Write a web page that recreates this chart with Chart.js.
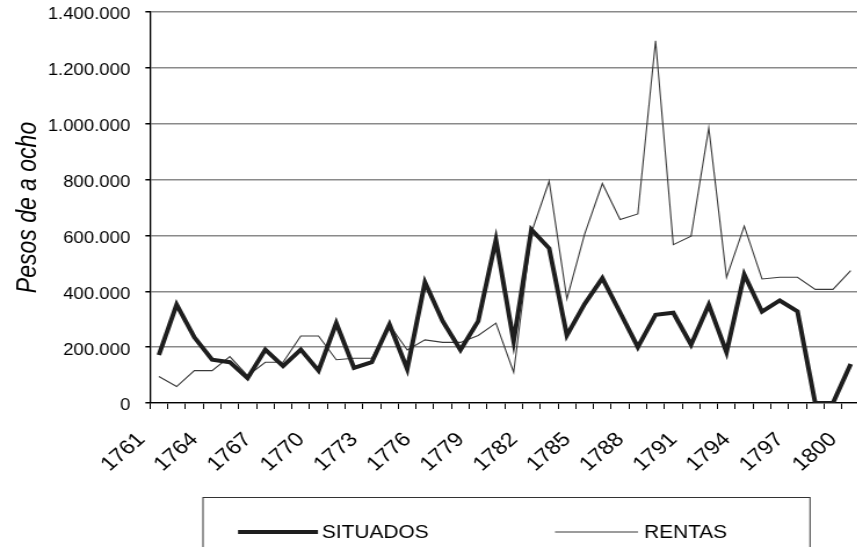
<!DOCTYPE html>
<html>
<head>
<meta charset="utf-8">
<script src="https://cdn.jsdelivr.net/npm/chart.js@4.4.1/dist/chart.umd.min.js"></script>
<style>
  html, body { margin: 0; padding: 0; background: #fff; overflow: hidden; }
  /* the original picture is stretched sideways, so the whole chart is too */
  #wrap { width: 741px; height: 547px; transform: scaleX(1.16); transform-origin: 0 0; }
</style>
</head>
<body>
<div id="wrap"><canvas id="chart" width="741" height="547"></canvas></div>
<script>
// años (categorías)
var years = ["1761","1762","1763","1764","1765","1766","1767","1768","1769","1770",
             "1771","1772","1773","1774","1775","1776","1777","1778","1779","1780",
             "1781","1782","1783","1784","1785","1786","1787","1788","1789","1790",
             "1791","1792","1793","1794","1795","1796","1797","1798","1799","1800"];

// pesos de a ocho
var situados = [172000, 352000, 235000, 155000, 146000, 89000, 191000, 132000, 191000, 116000,
                286000, 126000, 146000, 281000, 122000, 432000, 293000, 190000, 293000, 584000,
                221000, 621000, 554000, 242000, 355000, 447000, 324000, 200000, 316000, 323000,
                209000, 352000, 182000, 460000, 327000, 367000, 328000, 0, 0, 140000];

var rentas = [95000, 59000, 116000, 116000, 166000, 98000, 146000, 146000, 240000, 240000,
              155000, 160000, 160000, 280000, 190000, 226000, 217000, 217000, 242000, 286000,
              110000, 610000, 794000, 373000, 605000, 786000, 657000, 677000, 1297000, 567000,
              597000, 985000, 450000, 633000, 444000, 450000, 450000, 407000, 407000, 474000];

var yMin = 0, yMax = 1400000, yStep = 200000;

var S = 1.16;
var FONT = "'Liberation Sans', Arial, sans-serif";

function fmtMiles(v) {
  return String(v).replace(/\B(?=(\d{3})+(?!\d))/g, ".");
}

// leyenda con marco, como en el original
var boxLegend = {
  id: "boxLegend",
  afterDraw: function(chart) {
    var ctx = chart.ctx;
    ctx.save();
    ctx.strokeStyle = "#333";
    ctx.lineWidth = 1;
    ctx.strokeRect(203 / S, 497.5, 607 / S, 80);

    var items = [
      { ds: chart.data.datasets[0], x1: 238, x2: 318, tx: 322 },
      { ds: chart.data.datasets[1], x1: 555, x2: 638, tx: 644 }
    ];
    var y = 532;
    items.forEach(function(it) {
      ctx.beginPath();
      ctx.strokeStyle = it.ds.borderColor;
      ctx.lineWidth = it.ds.borderWidth;
      ctx.moveTo(it.x1 / S, y);
      ctx.lineTo(it.x2 / S, y);
      ctx.stroke();
      ctx.fillStyle = "#000";
      ctx.font = "18px " + FONT;
      ctx.textBaseline = "middle";
      ctx.fillText(it.ds.label, it.tx / S, y + 1);
    });
    ctx.restore();
  }
};

var ctx = document.getElementById("chart").getContext("2d");

var chart = new Chart(ctx, {
  type: "line",
  data: {
    labels: years,
    datasets: [
      {
        label: "SITUADOS",
        data: situados,
        borderColor: "#1e1e1e",
        borderWidth: 4,
        borderJoinStyle: "miter",
        pointRadius: 0,
        tension: 0,
        fill: false
      },
      {
        label: "RENTAS",
        data: rentas,
        borderColor: "#3a3a3a",
        borderWidth: 1.1,
        pointRadius: 0,
        tension: 0,
        fill: false
      }
    ]
  },
  options: {
    responsive: false,
    animation: false,
    layout: { padding: { top: 12, right: 0, bottom: 0, left: 0 } },
    plugins: {
      legend: { display: false },
      tooltip: { enabled: false }
    },
    scales: {
      x: {
        type: "category",
        offset: true,
        grid: {
          offset: true,
          drawOnChartArea: false,
          drawTicks: true,
          tickLength: 6,
          tickColor: "#000"
        },
        border: { color: "#000", width: 1.3 },
        ticks: {
          autoSkip: false,
          maxRotation: 45,
          minRotation: 45,
          padding: 19,
          labelOffset: -15,
          color: "#000",
          font: { family: FONT, size: 20 },
          callback: function(val, i) {
            return i % 3 === 0 ? this.getLabelForValue(val) : "";
          }
        },
        afterFit: function(scale) {
          scale.height = 144;
          scale.paddingLeft = 0;
          scale.paddingRight = 0;
        }
      },
      y: {
        min: yMin,
        max: yMax,
        grid: {
          color: "#8a8a8a",
          lineWidth: 1.5,
          drawTicks: true,
          tickLength: 4,
          tickColor: "#000"
        },
        border: { color: "#000", width: 1.3 },
        ticks: {
          stepSize: yStep,
          padding: 13,
          labelOffset: 3,
          color: "#000",
          font: { family: FONT, size: 16 },
          callback: function(v) { return fmtMiles(v); }
        },
        title: {
          display: true,
          text: "Pesos de a ocho",
          color: "#000",
          padding: { top: 11, bottom: 0 },
          font: { family: FONT, size: 23, style: "italic" }
        },
        afterFit: function(scale) {
          scale.width = 150 / S;
          scale.paddingTop = 0;
          scale.paddingBottom = 0;
        }
      }
    }
  },
  plugins: [boxLegend]
});
</script>
</body>
</html>
